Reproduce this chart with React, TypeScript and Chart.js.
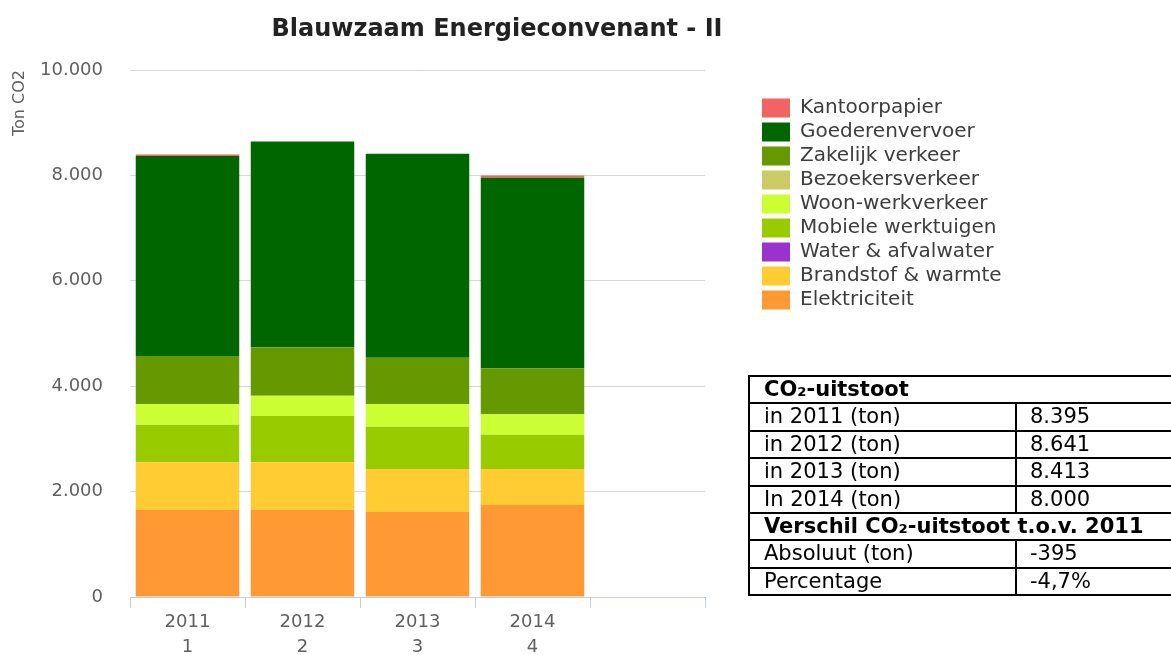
import React, { useEffect, useRef } from 'react';
import { Chart, registerables } from 'chart.js';

Chart.register(...registerables);

// ---- data ----
const years = ['2011', '2012', '2013', '2014', ''];
const yearIndex = ['1', '2', '3', '4', ''];

const elektriciteit = [1650, 1650, 1613, 1746, null];
const brandstofWarmte = [906, 906, 816, 683, null];
const waterAfvalwater = [0, 0, 0, 0, null];
const mobieleWerktuigen = [714, 878, 803, 651, null];
const woonWerkverkeer = [392, 386, 430, 387, null];
const bezoekersverkeer = [0, 0, 0, 0, null];
const zakelijkVerkeer = [911, 918, 879, 872, null];
const goederenvervoer = [3795, 3903, 3872, 3618, null];
const kantoorpapier = [27, 0, 0, 43, null];

const yTickValues = [0, 2000, 4000, 6000, 8000, 10000];

const chartTitle = 'Blauwzaam Energieconvenant - II';
const yAxisTitle = 'Ton CO2';

const tableHeader1 = 'CO₂-uitstoot';
const tableYearRows = [
  ['in 2011 (ton)', '8.395'],
  ['in 2012 (ton)', '8.641'],
  ['in 2013 (ton)', '8.413'],
  ['In 2014 (ton)', '8.000'],
];
const tableHeader2 = 'Verschil CO₂-uitstoot t.o.v. 2011';
const tableDiffRows = [
  ['Absoluut (ton)', '-395'],
  ['Percentage', '-4,7%'],
];

const FONT = 'DejaVu Sans';

const fmt = (v: number) => String(v).replace(/\B(?=(\d{3})+(?!\d))/g, '.');

const layoutTweaks = {
  id: 'layoutTweaks',
  beforeLayout(chart: any) {
    const lg = chart.legend;
    if (lg && !lg.__patched) {
      const origFit = lg.fit;
      lg.fit = function () {
        origFit.call(this);
        this.width = 1171 - 705;
      };
      lg.__patched = true;
    }
  },
  afterLayout(chart: any) {
    const lg = chart.legend;
    if (lg) {
      lg.left = 758;
      lg.right = 1171;
      lg.top = 94;
    }
    const t = chart.titleBlock;
    if (t) {
      t.left = 0;
      t.right = 994;
    }
  },
};

function ChartCanvas() {
  const ref = useRef<HTMLCanvasElement | null>(null);
  useEffect(() => {
    if (!ref.current) return;
    const mk = (label: string, data: (number | null)[], color: string) => ({
      label,
      data,
      backgroundColor: color,
      borderWidth: 0,
      categoryPercentage: 1,
      barPercentage: 0.9,
    });
    const chart = new Chart(ref.current, {
      type: 'bar',
      data: {
        labels: years.map((y, i) => (y ? [y, yearIndex[i]] : '')),
        datasets: [
          mk('Elektriciteit', elektriciteit, '#ff9933'),
          mk('Brandstof & warmte', brandstofWarmte, '#ffcc33'),
          mk('Water & afvalwater', waterAfvalwater, '#9933cc'),
          mk('Mobiele werktuigen', mobieleWerktuigen, '#99cc00'),
          mk('Woon-werkverkeer', woonWerkverkeer, '#ccff33'),
          mk('Bezoekersverkeer', bezoekersverkeer, '#cccc66'),
          mk('Zakelijk verkeer', zakelijkVerkeer, '#669900'),
          mk('Goederenvervoer', goederenvervoer, '#006600'),
          mk('Kantoorpapier', kantoorpapier, '#f26363'),
        ],
      },
      options: {
        animation: false,
        responsive: false,
        devicePixelRatio: 1,
        layout: { padding: 0 },
        plugins: {
          title: {
            display: true,
            text: chartTitle,
            color: '#222',
            font: { family: FONT, size: 24, weight: 'bold' },
            padding: { top: 15.6, bottom: 25.6 },
          },
          legend: {
            display: true,
            position: 'right',
            align: 'start',
            reverse: true,
            labels: {
              boxWidth: 28,
              boxHeight: 19,
              padding: 4,
              color: '#3d3d3d',
              font: { family: FONT, size: 20 },
            },
          },
          tooltip: { enabled: false },
        },
        scales: {
          x: {
            stacked: true,
            offset: true,
            grid: {
              offset: true,
              drawOnChartArea: false,
              drawTicks: true,
              tickLength: 11,
              color: '#c0d0e0',
            },
            border: { display: true, color: '#c0d0e0', width: 1 },
            ticks: {
              color: '#606060',
              font: { family: FONT, size: 18, lineHeight: 1.39 },
              padding: 2,
              maxRotation: 0,
              autoSkip: false,
            },
            afterFit: (s: any) => {
              s.height = 58;
            },
          },
          y: {
            stacked: true,
            min: 0,
            max: 10000,
            afterBuildTicks: (s: any) => {
              s.ticks = yTickValues.map((v) => ({ value: v }));
            },
            grid: { color: '#d8d8d8', drawTicks: false, lineWidth: 1 },
            border: { display: false },
            ticks: {
              color: '#606060',
              font: { family: FONT, size: 18 },
              padding: 27,
              callback: (v: any) => fmt(Number(v)),
            },
            title: {
              display: true,
              text: yAxisTitle,
              align: 'end',
              color: '#606060',
              font: { family: FONT, size: 16 },
              padding: { top: 10, bottom: 0 },
            },
            afterFit: (s: any) => {
              s.width = 130;
            },
          },
        },
      },
      plugins: [layoutTweaks],
    } as any);
    return () => chart.destroy();
  }, []);
  return <canvas ref={ref} width={1171} height={655} style={{ position: 'absolute', left: 0, top: 0 }} />;
}

const cell: React.CSSProperties = {
  border: '2px solid #000',
  padding: '0 0 0 14px',
  lineHeight: '25.4px',
  whiteSpace: 'nowrap',
  textAlign: 'left',
};
const cell2: React.CSSProperties = { ...cell, padding: '0 0 0 13px' };

export default function App() {
  return (
    <div
      style={{
        position: 'absolute',
        left: 0,
        top: 0,
        width: 1171,
        height: 655,
        overflow: 'hidden',
        background: '#fff',
      }}
    >
      <ChartCanvas />
      <table
        style={{
          position: 'absolute',
          left: 748,
          top: 375,
          width: 425,
          borderCollapse: 'collapse',
          fontFamily: FONT,
          fontSize: 21,
          color: '#000',
          tableLayout: 'fixed',
        }}
      >
        <colgroup>
          <col style={{ width: 267 }} />
          <col style={{ width: 158 }} />
        </colgroup>
        <tbody>
          <tr>
            <td colSpan={2} style={{ ...cell, fontWeight: 'bold' }}>{tableHeader1}</td>
          </tr>
          {tableYearRows.map((r) => (
            <tr key={r[0]}>
              <td style={cell}>{r[0]}</td>
              <td style={cell2}>{r[1]}</td>
            </tr>
          ))}
          <tr>
            <td colSpan={2} style={{ ...cell, fontWeight: 'bold' }}>{tableHeader2}</td>
          </tr>
          {tableDiffRows.map((r) => (
            <tr key={r[0]}>
              <td style={cell}>{r[0]}</td>
              <td style={cell2}>{r[1]}</td>
            </tr>
          ))}
        </tbody>
      </table>
    </div>
  );
}
